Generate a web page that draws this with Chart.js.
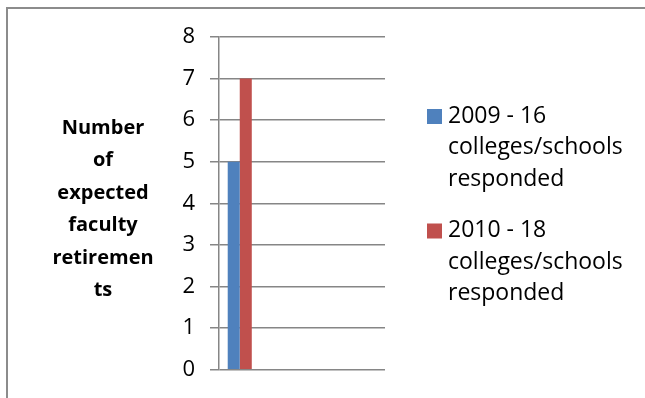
<!DOCTYPE html>
<html>
<head>
<meta charset="utf-8">
<script src="https://cdn.jsdelivr.net/npm/chart.js@4"></script>
<style>
  html, body { margin: 0; padding: 0; background: #fff; }
  #wrap { position: relative; width: 645px; height: 398px; }
</style>
</head>
<body>
<div id="wrap"><canvas id="retirementsChart"></canvas></div>
<script>
// Datos del gráfico
const categories = ['', '', '', ''];
const series2009 = [5, null, null, null];
const series2010 = [7, null, null, null];
const seriesLabels = [
    ['2009 - 16', 'colleges/schools', 'responded'],
    ['2010 - 18', 'colleges/schools', 'responded']
];
const yTicks = [0, 1, 2, 3, 4, 5, 6, 7, 8];
const yTitleLines = ['Number', 'of', 'expected', 'faculty', 'retiremen', 'ts'];

const FONT = '"Open Sans", sans-serif';
const GRID = '#868686';

// Marco, título del eje y leyenda
const decorPlugin = {
    id: 'decor',
    beforeDraw(chart) {
        const ctx = chart.ctx;
        ctx.save();
        ctx.strokeStyle = '#8c8c8c';
        ctx.lineWidth = 2;
        ctx.beginPath();
        ctx.moveTo(7, chart.height);
        ctx.lineTo(7, 8);
        ctx.lineTo(chart.width, 8);
        ctx.stroke();
        ctx.restore();
    },
    afterDraw(chart) {
        const ctx = chart.ctx;
        ctx.save();
        ctx.fillStyle = '#000';
        ctx.textBaseline = 'middle';

        // título del eje vertical
        ctx.font = 'bold 20px ' + FONT;
        ctx.textAlign = 'center';
        yTitleLines.forEach(function(t, i) {
            ctx.fillText(t, 103, 128 + i * 32.5);
        });

        // leyenda
        ctx.font = '23px ' + FONT;
        ctx.textAlign = 'left';
        let y = 116;
        chart.data.datasets.forEach(function(ds) {
            ctx.fillStyle = ds.backgroundColor;
            ctx.fillRect(427, y - 7, 15, 15);
            ctx.fillStyle = '#000';
            ds.label.forEach(function(t, i) {
                ctx.fillText(t, 448, y + i * 31.5);
            });
            y += ds.label.length * 31.5 + 20;
        });
        ctx.restore();
    }
};

const chart = new Chart(document.getElementById('retirementsChart'), {
    type: 'bar',
    data: {
        labels: categories,
        datasets: [{
            label: seriesLabels[0],
            data: series2009,
            backgroundColor: '#4f81bd'
        }, {
            label: seriesLabels[1],
            data: series2010,
            backgroundColor: '#c0504d'
        }]
    },
    options: {
        responsive: true,
        maintainAspectRatio: false,
        animation: false,
        devicePixelRatio: 1,
        layout: {
            padding: { left: 0, top: 37, right: 260, bottom: 25 }
        },
        categoryPercentage: 0.58,
        barPercentage: 1.0,
        plugins: {
            legend: { display: false },
            tooltip: { enabled: false }
        },
        scales: {
            x: {
                display: false
            },
            y: {
                min: 0,
                max: 8,
                afterBuildTicks(scale) {
                    scale.ticks = yTicks.map(function(v) { return { value: v }; });
                },
                afterFit(scale) {
                    scale.width = 219;
                },
                grid: {
                    color: GRID,
                    lineWidth: 1.5,
                    tickLength: 9,
                    drawTicks: true
                },
                border: {
                    display: true,
                    color: GRID,
                    width: 1.5
                },
                ticks: {
                    padding: 15,
                    color: '#000',
                    font: { family: FONT, size: 22 }
                }
            }
        }
    },
    plugins: [decorPlugin]
});
</script>
</body>
</html>
